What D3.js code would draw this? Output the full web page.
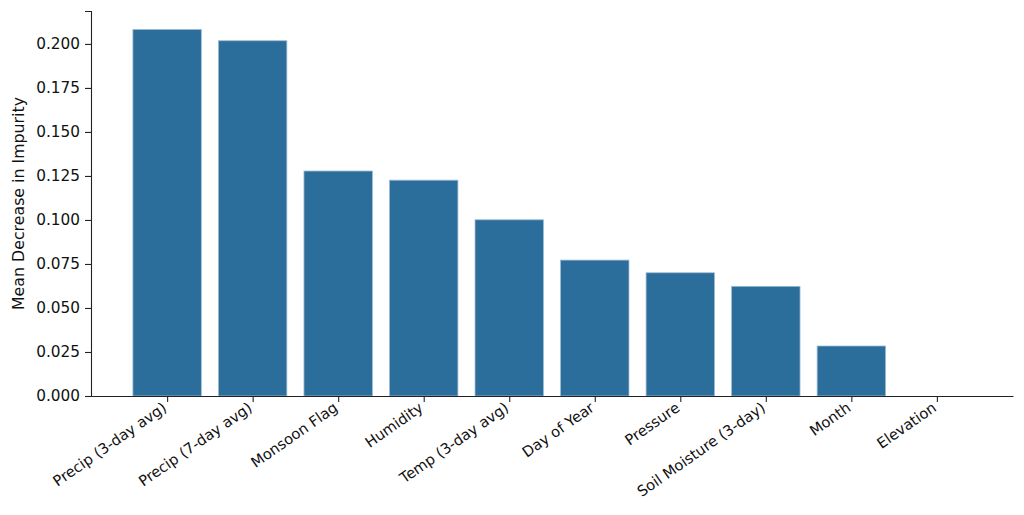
<!DOCTYPE html>
<html>
<head>
<meta charset="utf-8">
<script src="https://cdn.jsdelivr.net/npm/d3@7"></script>
<style>
  body { margin: 0; background: #fff; }
  svg { display: block; font-family: "DejaVu Sans", sans-serif; }
</style>
</head>
<body>
<div id="chart"></div>
<script>
const features = ["Precip (3-day avg)", "Precip (7-day avg)", "Monsoon Flag", "Humidity",
  "Temp (3-day avg)", "Day of Year", "Pressure", "Soil Moisture (3-day)", "Month", "Elevation"];
const importance = [0.2082, 0.2018, 0.1278, 0.1226, 0.1001, 0.0772, 0.0700, 0.0623, 0.0284, 0.0];
const yTicks = [0, 0.025, 0.05, 0.075, 0.1, 0.125, 0.15, 0.175, 0.2];

const width = 1024, height = 515;
const margin = { top: 11, right: 11, bottom: 119, left: 91 };
const innerW = width - margin.left - margin.right;
const innerH = height - margin.top - margin.bottom;

const svg = d3.select("#chart").append("svg")
  .attr("width", width)
  .attr("height", height);

const g = svg.append("g")
  .attr("transform", `translate(${margin.left},${margin.top})`);

// matplotlib-like linear x positions with 5% margins
const x = d3.scaleLinear()
  .domain([-0.89, features.length - 1 + 0.89])
  .range([0, innerW]);

const y = d3.scaleLinear()
  .domain([0, 0.2187])
  .range([innerH, 0]);

const barW = x(0.8) - x(0);

g.selectAll("rect.bar")
  .data(importance)
  .join("rect")
  .attr("class", "bar")
  .attr("x", (d, i) => x(i) - barW / 2)
  .attr("width", barW)
  .attr("y", d => y(d))
  .attr("height", d => innerH - y(d))
  .attr("fill", "#2c6e9b")
  .attr("stroke", d => d > 0 ? "#9dbbd1" : "none")
  .attr("stroke-width", 0.8);

// y axis
const yAxis = g.append("g")
  .call(d3.axisLeft(y).tickValues(yTicks).tickFormat(d3.format(".3f")).tickSize(6).tickPadding(5));
yAxis.select(".domain").attr("stroke", "#222").attr("stroke-width", 1.1);
yAxis.selectAll(".tick line").attr("stroke", "#222").attr("stroke-width", 1.1);
yAxis.selectAll(".tick text")
  .attr("fill", "#111")
  .style("font-size", "15.3px")
  .style("font-family", "DejaVu Sans");

// x axis
const xAxis = g.append("g")
  .attr("transform", `translate(0,${innerH})`)
  .call(d3.axisBottom(x).tickValues(d3.range(features.length))
    .tickFormat(i => features[i]).tickSize(6).tickSizeOuter(0));
xAxis.select(".domain").attr("stroke", "#222").attr("stroke-width", 1.1);
xAxis.selectAll(".tick line").attr("stroke", "#222").attr("stroke-width", 1.1);
xAxis.selectAll(".tick text")
  .attr("fill", "#111")
  .style("font-size", "14.7px")
  .style("font-family", "DejaVu Sans")
  .attr("text-anchor", "end")
  .attr("dy", null)
  .attr("y", 0)
  .attr("transform", "translate(0,14) rotate(-35)");

// y label
svg.append("text")
  .attr("transform", `translate(24,${margin.top + innerH / 2}) rotate(-90)`)
  .attr("text-anchor", "middle")
  .style("font-size", "15.8px")
  .attr("fill", "#111")
  .text("Mean Decrease in Impurity");
</script>
</body>
</html>
